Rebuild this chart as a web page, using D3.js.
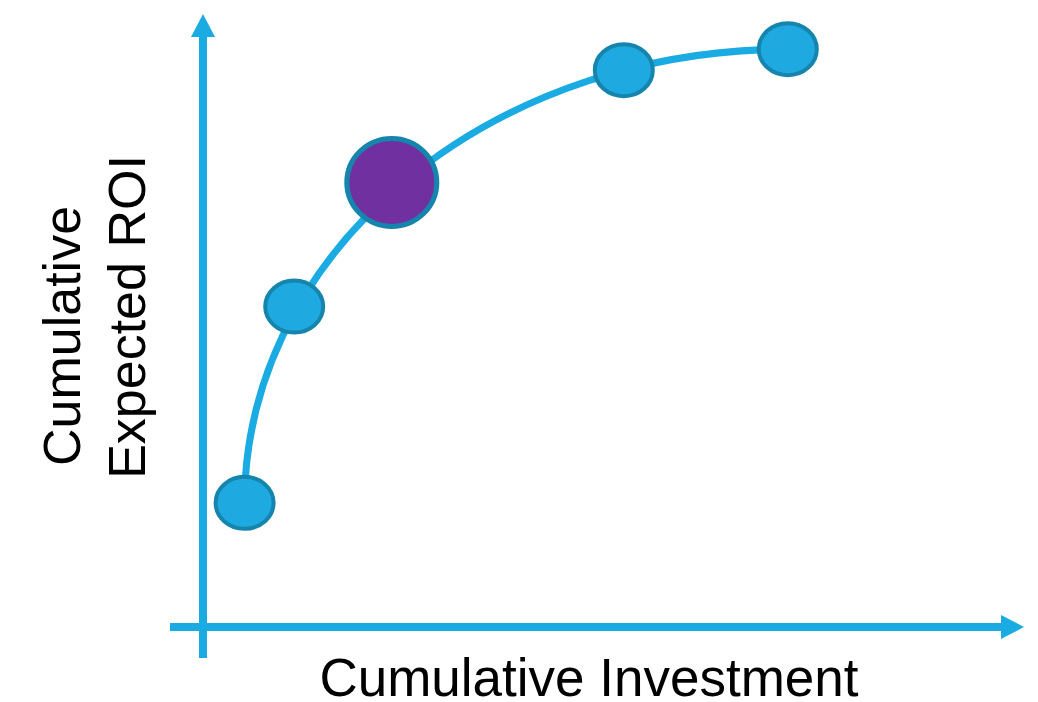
<!DOCTYPE html>
<html>
<head>
<meta charset="utf-8">
<script src="https://cdn.jsdelivr.net/npm/d3@7"></script>
<style>
  body { margin: 0; background: #fff; }
  text { font-family: "Liberation Sans", Arial, sans-serif; fill: #000; }
</style>
</head>
<body>
<div id="chart"></div>
<script>
// investment / expected ROI, both on a 0-100 scale
const investment = [5.2, 11.4, 23.6, 52.6, 73.1];
const expectedRoi = [20.7, 53.4, 74.1, 92.8, 96.3];
const highlighted = [false, false, true, false, false];
const xLabel = "Cumulative Investment";
const yLabelLines = ["Cumulative", "Expected ROI"];

const width = 1038, height = 702;
const blue = "#1aabe3";

const svg = d3.select("#chart")
  .append("svg")
  .attr("width", width)
  .attr("height", height);

const x = d3.scaleLinear().domain([0, 100]).range([203, 1003]);
const y = d3.scaleLinear().domain([0, 100]).range([627, 27]);

const points = investment.map((v, i) => ({ x: v, y: expectedRoi[i], hi: highlighted[i] }));

// axes: plain thick lines with triangle heads
const axes = svg.append("g");
axes.append("line")
  .attr("x1", x(0)).attr("x2", x(0))
  .attr("y1", y(0) + 31).attr("y2", 37)
  .attr("stroke", blue).attr("stroke-width", 8);
axes.append("path")
  .attr("d", `M${x(0)},14 L${x(0) - 12},37 L${x(0) + 12},37 Z`)
  .attr("fill", blue);
axes.append("line")
  .attr("x1", x(0) - 33).attr("x2", 1001)
  .attr("y1", y(0)).attr("y2", y(0))
  .attr("stroke", blue).attr("stroke-width", 8);
axes.append("path")
  .attr("d", `M1024,${y(0)} L1001,${y(0) - 12} L1001,${y(0) + 12} Z`)
  .attr("fill", blue);

// the curve is a quarter ellipse from the first point to the last one
const first = points[0], last = points[points.length - 1];
const x0 = x(first.x), y0 = y(first.y), x1 = x(last.x), y1 = y(last.y);
svg.append("path")
  .attr("d", `M${x0},${y0} A${x1 - x0},${y0 - y1} 0 0 1 ${x1},${y1}`)
  .attr("fill", "none")
  .attr("stroke", blue)
  .attr("stroke-width", 7);

svg.selectAll("ellipse.pt")
  .data(points)
  .join("ellipse")
  .attr("class", "pt")
  .attr("cx", d => x(d.x))
  .attr("cy", d => y(d.y))
  .attr("rx", d => d.hi ? 45 : 29)
  .attr("ry", d => d.hi ? 44 : 26)
  .attr("fill", d => d.hi ? "#7030a0" : "#1fa9e1")
  .attr("stroke", "#1685ad")
  .attr("stroke-width", d => d.hi ? 5 : 4);

// labels
svg.append("text")
  .attr("x", 589)
  .attr("y", 696)
  .attr("text-anchor", "middle")
  .style("font-size", "53px")
  .text(xLabel);

const yl = svg.append("g");
yl.append("text")
  .attr("transform", "translate(80,336) rotate(-90)")
  .attr("text-anchor", "middle")
  .style("font-size", "52px")
  .text(yLabelLines[0]);
yl.append("text")
  .attr("transform", "translate(145,317) rotate(-90)")
  .attr("text-anchor", "middle")
  .style("font-size", "52px")
  .text(yLabelLines[1]);
</script>
</body>
</html>
